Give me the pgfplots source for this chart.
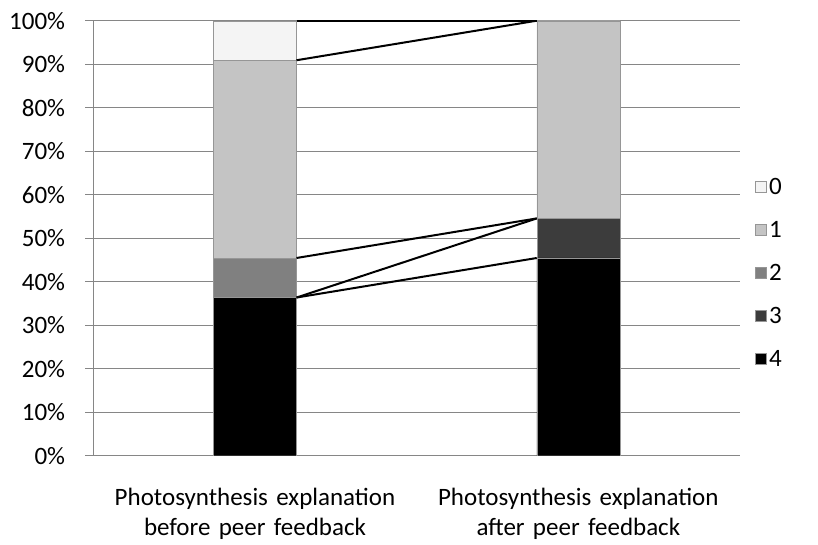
\documentclass[border=0pt]{standalone}
\usepackage{fontspec}
\setmainfont{Carlito}
\usepackage{pgfplots}
\pgfplotsset{compat=1.18}

\definecolor{gridgray}{RGB}{134,134,134}
\definecolor{edgegray}{RGB}{150,150,150}
\definecolor{c0}{RGB}{244,244,244}
\definecolor{c1}{RGB}{196,196,196}
\definecolor{c2}{RGB}{128,128,128}
\definecolor{c3}{RGB}{60,60,60}
\definecolor{c4}{RGB}{0,0,0}
\newcommand\cf{\fontsize{25}{30.5}\selectfont}

% share of each score (out of 11 answers), in percent
\pgfplotsset{
  sq/.style={legend image code/.code={\draw[##1, line width=0.8pt] (0pt,-5.5pt) rectangle (11pt,5.5pt);}},
  frame/.style={at={(0,0)}, anchor=south west, scale only axis,
    width=646.7pt, height=435pt, xmin=-0.5, xmax=1.5, ymin=0, ymax=100},
}

\begin{document}
\begin{tikzpicture}
\useasboundingbox (-93.3pt,-88.3pt) rectangle (724.7pt,455.7pt);
\begin{axis}[
    frame,
    ybar stacked, bar width=0.257,
    xtick={0,1},
    xticklabels={{Photosynthesis explanation\\before peer feedback},
                 {Photosynthesis explanation\\after peer feedback}},
    xticklabel style={font=\cf, text width=330pt, align=center, anchor=north, inner sep=0pt, yshift=-24pt},
    x tick style={draw=none},
    ytick={0,10,...,100},
    yticklabel={\pgfmathprintnumber{\tick}\%},
    yticklabel style={font=\cf, anchor=east, inner sep=0pt, xshift=-20pt},
    /pgf/number format/assume math mode=true,
    axis x line*=bottom, axis y line*=left,
    axis line style={gridgray, line width=1.2pt},
    y tick style={gridgray, line width=1.2pt},
    tick align=outside, major tick length=8pt,
    ymajorgrids, grid style={gridgray, line width=1.2pt},
    reverse legend,
    legend style={at={(1,0.42)}, anchor=west, xshift=12pt, draw=none, fill=none,
      font=\cf, row sep=21.5pt},
    legend cell align=left,
]
\addplot[fill=c4, draw=edgegray, sq] coordinates {(0,36.36) (1,45.45)};
\addplot[fill=c3, draw=edgegray, sq] coordinates {(0,0) (1,9.09)};
\addplot[fill=c2, draw=edgegray, sq] coordinates {(0,9.09) (1,0)};
\addplot[fill=c1, draw=edgegray, sq] coordinates {(0,45.45) (1,45.45)};
\addplot[fill=c0, draw=edgegray, sq] coordinates {(0,9.09) (1,0)};
\legend{4,3,2,1,0}
\end{axis}
% series lines joining the top of each segment
\begin{axis}[frame, axis lines=none]
\addplot[black, line width=2pt] coordinates {(0.1285,36.36) (0.8715,45.45)};
\addplot[black, line width=2pt] coordinates {(0.1285,36.36) (0.8715,54.55)};
\addplot[black, line width=2pt] coordinates {(0.1285,45.45) (0.8715,54.55)};
\addplot[black, line width=2pt] coordinates {(0.1285,90.91) (0.8715,100)};
\addplot[black, line width=2pt] coordinates {(0.1285,100) (0.8715,100)};
\end{axis}
\end{tikzpicture}
\end{document}
